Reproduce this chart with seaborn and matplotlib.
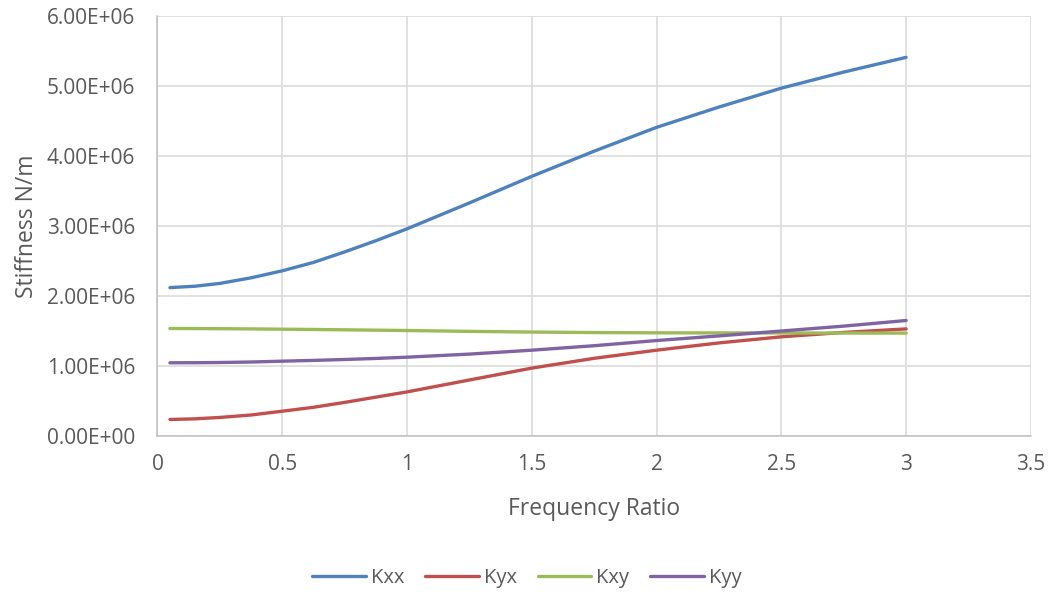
import matplotlib
matplotlib.use("Agg")
import matplotlib.pyplot as plt
import seaborn as sns
import pandas as pd
from matplotlib.ticker import FuncFormatter

# Frequency ratio and stiffness coefficients (N/m)
freq_ratio = [0.05, 0.15, 0.25, 0.375, 0.5, 0.625, 0.75, 0.875, 1.0,
              1.25, 1.5, 1.75, 2.0, 2.25, 2.5, 2.75, 3.0]
kxx = [2.12e6, 2.14e6, 2.18e6, 2.26e6, 2.36e6, 2.48e6, 2.63e6, 2.79e6, 2.96e6,
       3.33e6, 3.71e6, 4.07e6, 4.41e6, 4.70e6, 4.97e6, 5.20e6, 5.41e6]
kyx = [0.236e6, 0.245e6, 0.265e6, 0.30e6, 0.354e6, 0.41e6, 0.48e6, 0.555e6, 0.63e6,
       0.80e6, 0.97e6, 1.11e6, 1.226e6, 1.33e6, 1.417e6, 1.48e6, 1.53e6]
kxy = [1.536e6, 1.535e6, 1.533e6, 1.53e6, 1.526e6, 1.522e6, 1.517e6, 1.512e6, 1.507e6,
       1.495e6, 1.485e6, 1.478e6, 1.474e6, 1.473e6, 1.472e6, 1.471e6, 1.47e6]
kyy = [1.046e6, 1.047e6, 1.05e6, 1.057e6, 1.069e6, 1.08e6, 1.093e6, 1.108e6, 1.126e6,
       1.17e6, 1.226e6, 1.29e6, 1.364e6, 1.43e6, 1.50e6, 1.57e6, 1.65e6]

series_names = ["Kxx", "Kyx", "Kxy", "Kyy"]
series_colors = ["#4F81BD", "#C0504D", "#9BBB59", "#8064A2"]

df = pd.DataFrame({"Frequency Ratio": freq_ratio, "Kxx": kxx, "Kyx": kyx, "Kxy": kxy, "Kyy": kyy})
long = df.melt(id_vars="Frequency Ratio", var_name="series", value_name="Stiffness")

sns.set_theme(style="white")
plt.rcParams["font.family"] = ["Open Sans", "DejaVu Sans"]
text_color = "#595959"

fig = plt.figure(figsize=(10.54, 5.97), dpi=100)
ax = fig.add_axes([0.1494, 0.2697, 0.8287, 0.7034])

sns.lineplot(data=long, x="Frequency Ratio", y="Stiffness", hue="series",
             hue_order=series_names, palette=series_colors, linewidth=2.4,
             ax=ax, legend=True, solid_capstyle="round", solid_joinstyle="round")

ax.set_xlim(0, 3.5)
ax.set_ylim(0, 6e6)
ax.set_xticks([0, 0.5, 1, 1.5, 2, 2.5, 3, 3.5])
ax.set_xticklabels(["0", "0.5", "1", "1.5", "2", "2.5", "3", "3.5"])
ax.set_yticks([0, 1e6, 2e6, 3e6, 4e6, 5e6, 6e6])
ax.yaxis.set_major_formatter(FuncFormatter(lambda v, p: f"{v:.2E}"))

ax.grid(True, color="#D9D9D9", linewidth=1.1)
ax.set_axisbelow(True)
for side in ["top", "right"]:
    ax.spines[side].set_visible(False)
for side in ["left", "bottom"]:
    ax.spines[side].set_color("#BFBFBF")
    ax.spines[side].set_linewidth(1.1)

ax.tick_params(axis="both", length=0, labelsize=15, labelcolor=text_color)
ax.tick_params(axis="y", pad=16)
ax.tick_params(axis="x", pad=13)
ax.set_xlabel("Frequency Ratio", fontsize=16.5, color=text_color, labelpad=16)
ax.set_ylabel("Stiffness N/m", fontsize=16.5, color=text_color, labelpad=6)

handles, labels = ax.get_legend_handles_labels()
ax.legend(handles, labels, loc="center", bbox_to_anchor=(0.5, 0.032),
          bbox_transform=fig.transFigure, ncol=4, frameon=False,
          fontsize=14.5, labelcolor=text_color, handlelength=2.65,
          handletextpad=0.25, columnspacing=1.05)

fig.savefig("out.png", dpi=100)
